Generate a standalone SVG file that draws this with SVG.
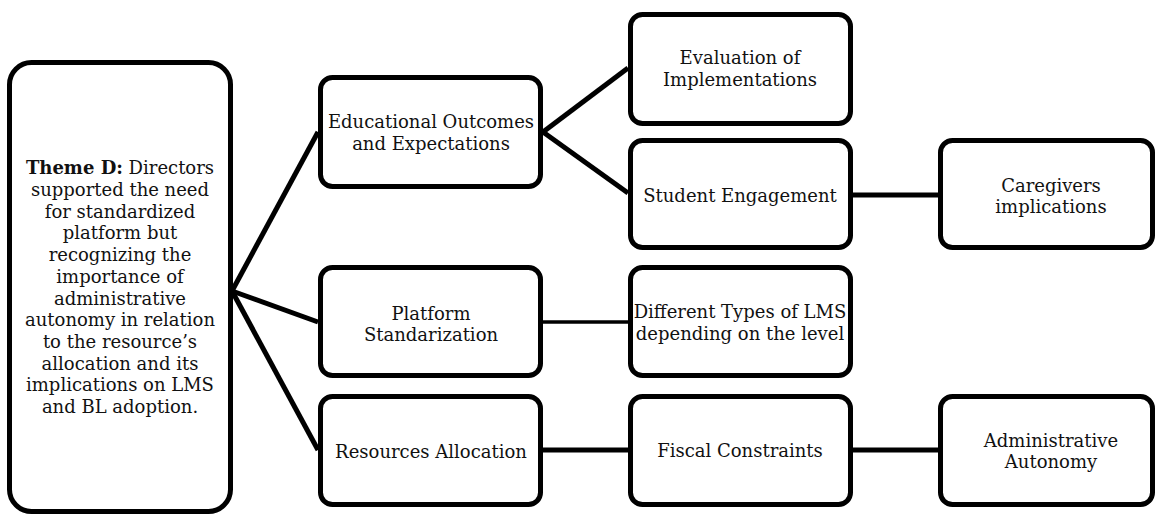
<svg xmlns="http://www.w3.org/2000/svg" width="1155" height="516" viewBox="0 0 1155 516">
  <style>
    .box { fill: #ffffff; stroke: #000000; stroke-width: 5; }
    .link { fill: none; stroke: #000000; stroke-width: 5; }
    .thin { stroke-width: 3.5; }
    text { font-family: "DejaVu Serif", "Liberation Serif", serif; font-size: 18px; fill: #111111; text-anchor: middle; }
    .b { font-weight: bold; }
  </style>
  <rect width="1155" height="516" fill="#ffffff"/>

  <g id="connectors">
    <path class="link" d="M232,291 L318,132"/>
    <path class="link" d="M232,291 L318,322"/>
    <path class="link" d="M232,291 L318,450"/>
    <path class="link" d="M543,132 L628,68"/>
    <path class="link" d="M543,132 L628,193"/>
    <path class="link" d="M853,195 L938,195"/>
    <path class="link thin" d="M543,322 L628,322"/>
    <path class="link" d="M543,450 L628,450"/>
    <path class="link" d="M853,450 L938,450"/>
  </g>

  <g id="theme-d">
    <rect class="box" x="9.5" y="62.5" width="221" height="449" rx="22"/>
    <text x="120" y="174"><tspan class="b">Theme D:</tspan> Directors</text>
    <text x="120" y="196">supported the need</text>
    <text x="120" y="218">for standardized</text>
    <text x="120" y="239">platform but</text>
    <text x="120" y="261">recognizing the</text>
    <text x="120" y="283">importance of</text>
    <text x="120" y="305">administrative</text>
    <text x="120" y="326">autonomy in relation</text>
    <text x="120" y="348">to the resource’s</text>
    <text x="120" y="370">allocation and its</text>
    <text x="120" y="391">implications on LMS</text>
    <text x="120" y="413">and BL adoption.</text>
  </g>

  <g id="educational-outcomes">
    <rect class="box" x="320.5" y="77.5" width="220" height="109" rx="12"/>
    <text x="431" y="128">Educational Outcomes</text>
    <text x="431" y="150">and Expectations</text>
  </g>

  <g id="platform-standarization">
    <rect class="box" x="320.5" y="267.5" width="220" height="108" rx="12"/>
    <text x="431" y="320">Platform</text>
    <text x="431" y="341">Standarization</text>
  </g>

  <g id="resources-allocation">
    <rect class="box" x="320.5" y="396.5" width="220" height="108" rx="12"/>
    <text x="431" y="458">Resources Allocation</text>
  </g>

  <g id="evaluation">
    <rect class="box" x="630.5" y="14.5" width="220" height="109" rx="12"/>
    <text x="740" y="64">Evaluation of</text>
    <text x="740" y="86">Implementations</text>
  </g>

  <g id="student-engagement">
    <rect class="box" x="630.5" y="140.5" width="220" height="107" rx="12"/>
    <text x="740" y="202">Student Engagement</text>
  </g>

  <g id="lms-types">
    <rect class="box" x="630.5" y="267.5" width="220" height="108" rx="12"/>
    <text x="740" y="318">Different Types of LMS</text>
    <text x="740" y="340">depending on the level</text>
  </g>

  <g id="fiscal-constraints">
    <rect class="box" x="630.5" y="396.5" width="220" height="108" rx="12"/>
    <text x="740" y="457">Fiscal Constraints</text>
  </g>

  <g id="caregivers">
    <rect class="box" x="940.5" y="140.5" width="212" height="107" rx="12"/>
    <text x="1051" y="192">Caregivers</text>
    <text x="1051" y="213">implications</text>
  </g>

  <g id="administrative-autonomy">
    <rect class="box" x="940.5" y="396.5" width="212" height="108" rx="12"/>
    <text x="1051" y="447">Administrative</text>
    <text x="1051" y="468">Autonomy</text>
  </g>
</svg>
